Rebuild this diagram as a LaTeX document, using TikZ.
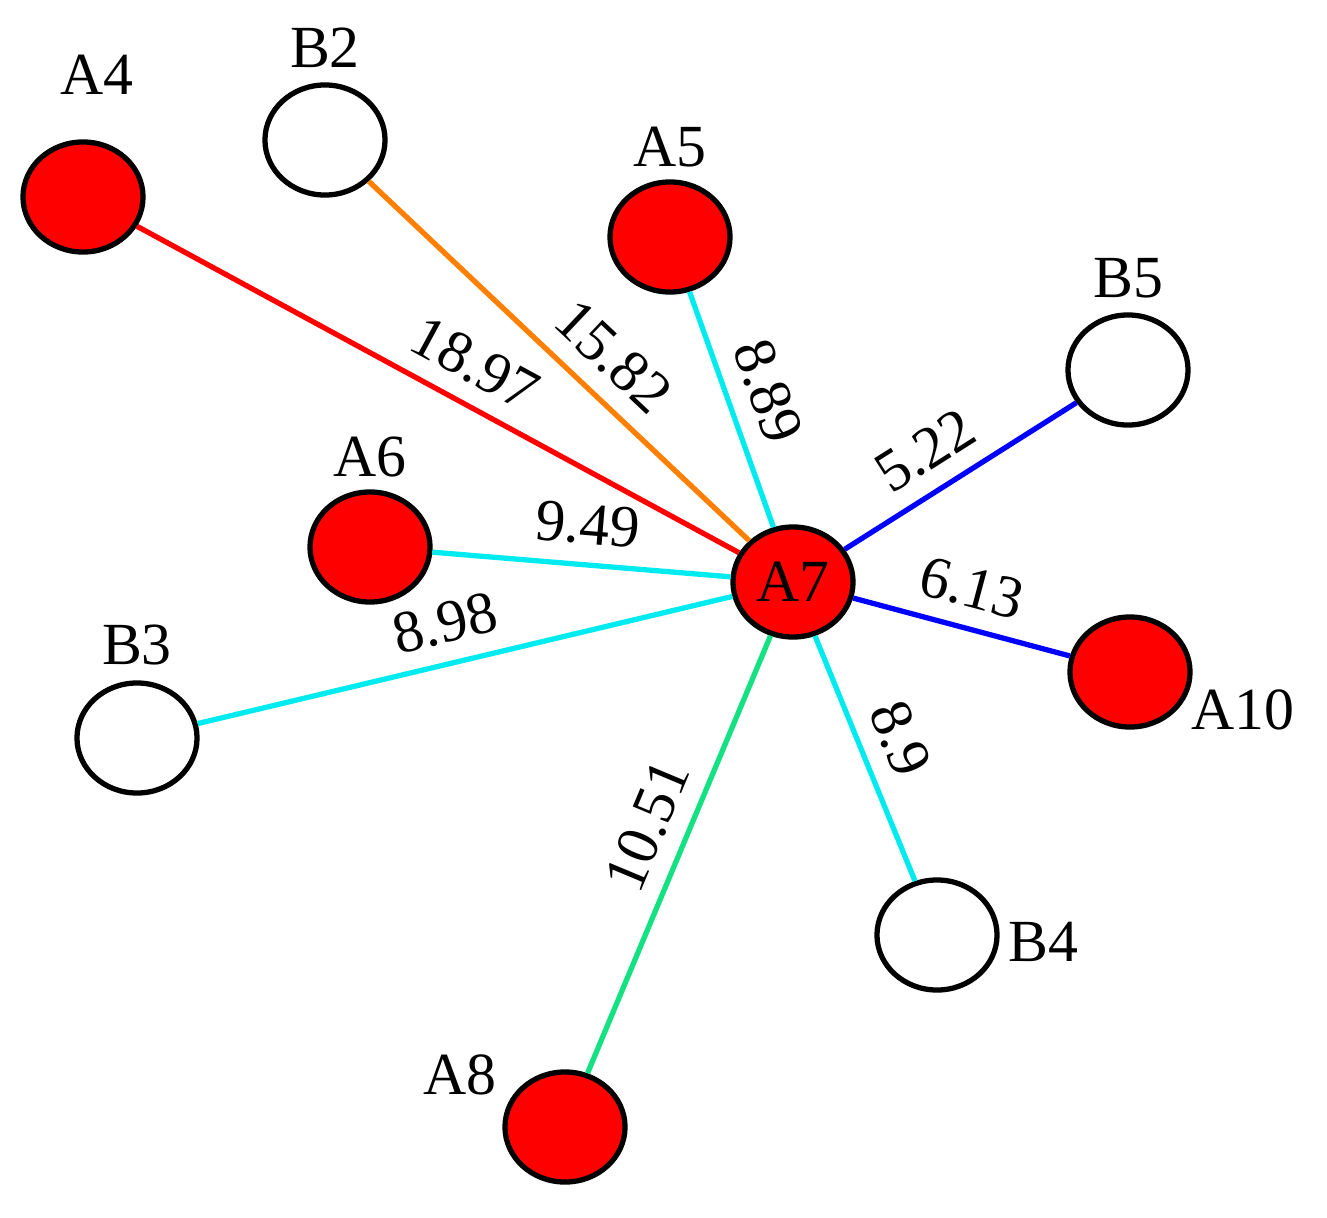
\documentclass[tikz,border=0pt]{standalone}
\usepackage{fontspec}
\setmainfont{Liberation Serif}
\usetikzlibrary{shapes.geometric}
\definecolor{edgegreen}{RGB}{20,225,130}
\definecolor{edgecyan}{RGB}{0,235,240}
\tikzset{
  vert/.style={ellipse, draw=black, line width=1.5pt, minimum width=1.2cm, minimum height=1.1cm, inner sep=0pt, font=\fontsize{17}{20}\selectfont},
  avert/.style={vert, fill=red},
  bvert/.style={vert, fill=white},
  tag/.style={font=\fontsize{17}{20}\selectfont},
  link/.style={line width=1.5pt},
  wlab/.style={sloped, above, inner sep=5pt, text=black, font=\fontsize{17}{20}\selectfont}
}
\begin{document}
\begin{tikzpicture}[x=0.01cm, y=-0.01cm]
	\useasboundingbox (0,0) rectangle (1327,1218);
	%csucsok
	\node[avert] (A7) at (793,582) {A7};
	\node[avert] (A4) at (83,197) {};
	\node[bvert] (B2) at (325,140) {};
	\node[avert] (A5) at (670,237) {};
	\node[bvert] (B5) at (1128,370) {};
	\node[avert] (A6) at (370,547) {};
	\node[avert] (A10) at (1130,672) {};
	\node[bvert] (B3) at (137,738) {};
	\node[bvert] (B4) at (937,935) {};
	\node[avert] (A8) at (565,1127) {};
	%feliratok
	\node[tag] (tA4) at (97,75) {A4};
	\node[tag] (tB2) at (325,48) {B2};
	\node[tag] (tA5) at (670,147) {A5};
	\node[tag] (tB5) at (1128,278) {B5};
	\node[tag] (tA6) at (370,457) {A6};
	\node[tag] (tB3) at (137,645) {B3};
	\node[tag] (tA10) at (1243,710) {A10};
	\node[tag] (tB4) at (1043,942) {B4};
	\node[tag] (tA8) at (460,1075) {A8};
	%elek
	\draw[link, red] (A7) -- (A4) node[wlab, pos=0.47] {18.97};
	\draw[link, orange] (A7) -- (B2) node[wlab, pos=0.43] {15.82};
	\draw[link, edgecyan] (A7) -- (A5) node[wlab, pos=0.52] {8.89};
	\draw[link, blue] (A7) -- (B5) node[wlab, pos=0.44] {5.22};
	\draw[link, edgecyan] (A7) -- (A6) node[wlab, pos=0.49] {9.49};
	\draw[link, edgecyan] (A7) -- (B3) node[wlab, pos=0.52] {8.98};
	\draw[link, blue] (A7) -- (A10) node[wlab, pos=0.5] {6.13};
	\draw[link, edgecyan] (A7) -- (B4) node[wlab, pos=0.48] {8.9};
	\draw[link, edgegreen] (A7) -- (A8) node[wlab, pos=0.47] {10.51};
\end{tikzpicture}
\end{document}
